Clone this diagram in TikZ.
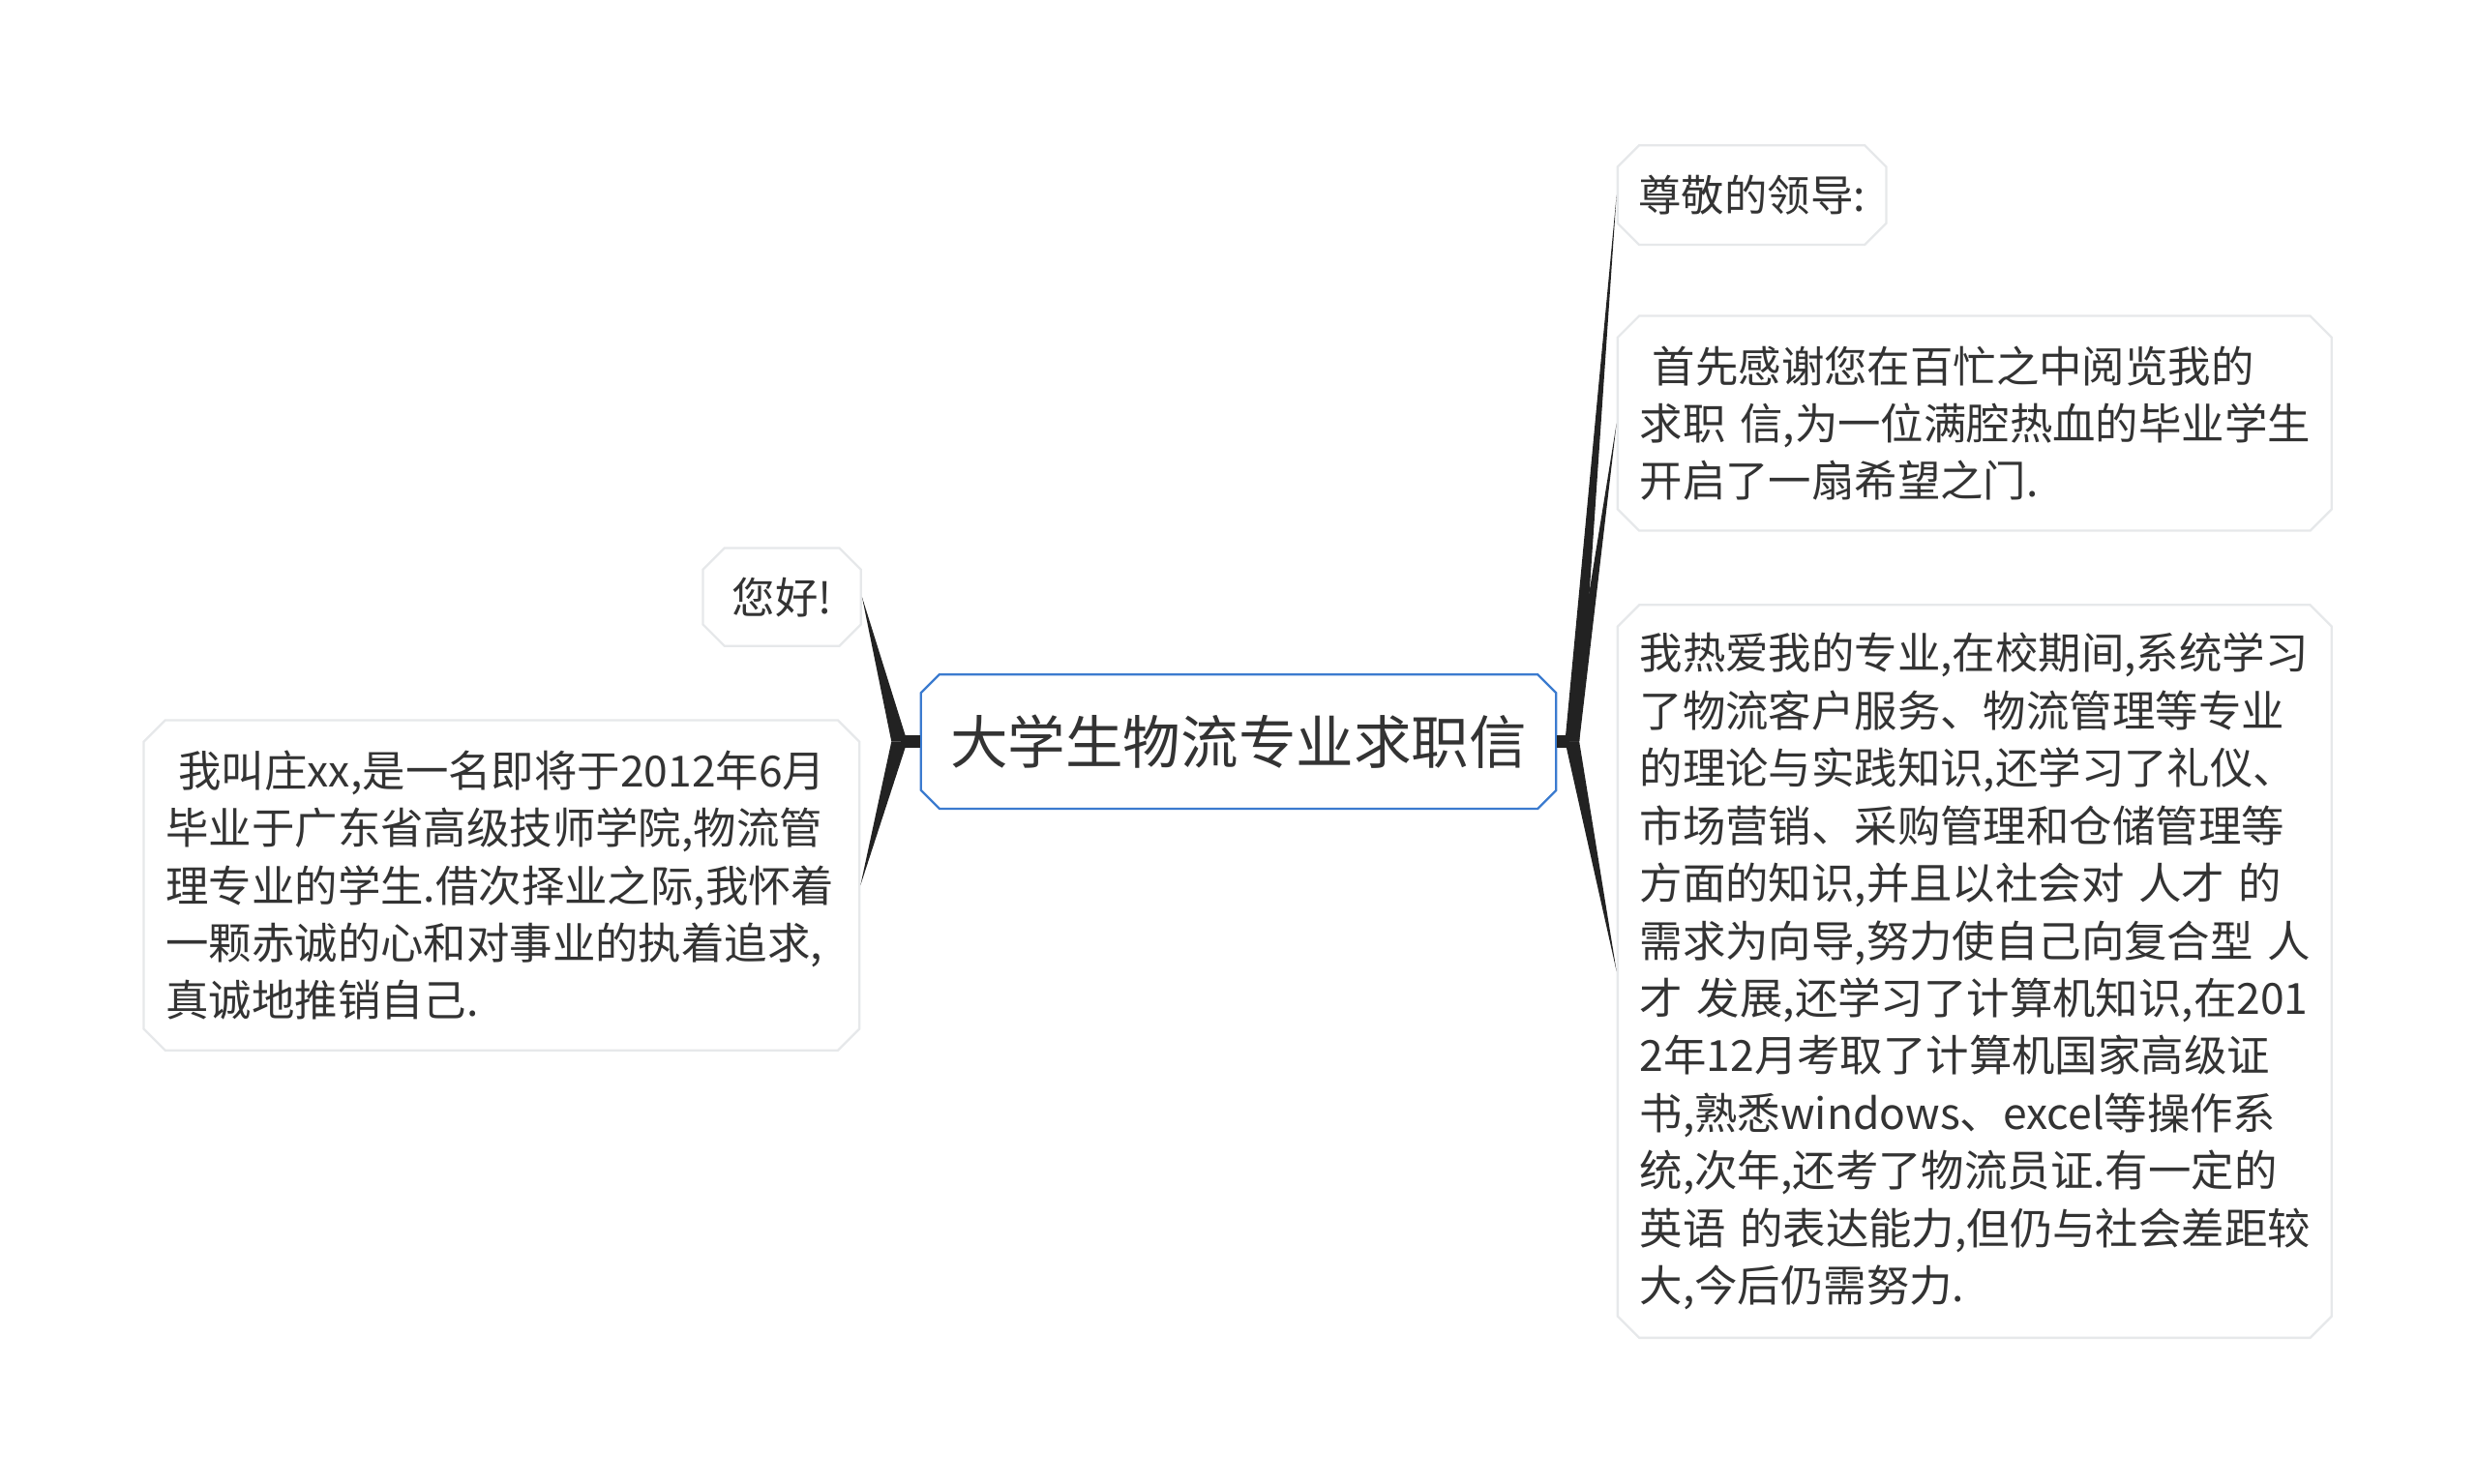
\documentclass[tikz,border=0pt]{standalone}
\usepackage{fontspec}
\setmainfont{Noto Sans CJK SC}
\usetikzlibrary{shapes.misc, calc}
\definecolor{inkgray}{HTML}{333333}
\definecolor{boxgray}{HTML}{E6E8EA}
\definecolor{topicblue}{HTML}{3B7BCF}
\definecolor{branchblack}{HTML}{222222}
\tikzset{
  topic/.style={chamfered rectangle, chamfered rectangle xsep=8pt, draw=topicblue, line width=1.4pt,
    fill=white, text=inkgray, font=\fontsize{36.5}{44}\selectfont, inner sep=0pt},
  leaf/.style={chamfered rectangle, chamfered rectangle xsep=10pt, draw=boxgray, line width=1.4pt,
    fill=white, text=inkgray, font=\fontsize{27.2}{36.4}\selectfont, inner sep=0pt, align=left},
  branch/.style={fill=branchblack}
}
\begin{document}
\begin{tikzpicture}[x=1pt,y=-1pt]
    \useasboundingbox (0,0) rectangle (1568,939);

    % the main topic
    \node[topic, minimum width=402pt, minimum height=85pt] (root) at (784,469.5) {大学生物流专业求职信};

    % the left side
    \node[leaf, minimum width=100pt, minimum height=62pt] (hello) at (495,378) {您好!};
    \node[leaf, minimum width=453pt, minimum height=209pt, text width=425pt] (intro) at (317.5,560.5)
        {\hspace*{8pt}我叫庄xx,是一名即将于2012年6月\\
         毕业于广东省高级技师学院,物流管\\
         理专业的学生.借次择业之际,我怀着\\
         一颗赤诚的心和对事业的执着追求,\\
         真诚地推销自己.};

    % the right side
    \node[leaf, minimum width=170pt, minimum height=63pt] (greet) at (1109,123.5) {尊敬的领导:};
    \node[leaf, minimum width=452pt, minimum height=136pt, text width=424pt] (thanks) at (1250,268)
        {\hspace*{8pt}首先感谢您在百忙之中阅览我的\\
         求职~信,为一位满腔热血的毕业学生\\
         开启了一扇希望之门.};
    \node[leaf, minimum width=452pt, minimum height=464pt, text width=424pt] (major) at (1250,615)
        {我热爱我的专业,在校期间,系统学习\\
         了物流客户服务、物流管理等专业\\
         的理论与实践知识,还学习了礼仪、\\
         市场营销、采购管理和仓储管理等\\
         方面的知识,并且以社会对~人才~的\\
         需求为向导,努力使自己向复合型~人\\
         才~发展,还学习了计算机知识,在201\\
         2年12月考取了计算机国家高级证\\
         书,熟悉windows、excel等操作系\\
         统,次年,还考了物流员证.有一定的\\
         英语~的表达能力,但仍与社会差距较\\
         大,今后仍需努力.};

    % the hubs next to the main topic
    \coordinate (lhub) at ($(root.west)+(-18,0)$);
    \coordinate (rhub) at ($(root.east)+(14,0)$);
    \draw[line width=8pt, branchblack] (root.west) -- ($(lhub)+(6,0)$);
    \draw[line width=8pt, branchblack] (root.east) -- ($(rhub)+(-6,0)$);

    % the tapered branches
    \fill[branch] (lhub) -- (hello.east) -- ($(lhub)+(10,0)$) -- cycle;
    \fill[branch] (lhub) -- (intro.east) -- ($(lhub)+(10,0)$) -- cycle;
    \fill[branch] (rhub) -- (greet.west) -- ($(rhub)+(-9,0)$) -- cycle;
    \fill[branch] (rhub) -- (thanks.west) -- ($(rhub)+(-9,0)$) -- cycle;
    \fill[branch] (rhub) -- (major.west) -- ($(rhub)+(-9,0)$) -- cycle;
\end{tikzpicture}
\end{document}
